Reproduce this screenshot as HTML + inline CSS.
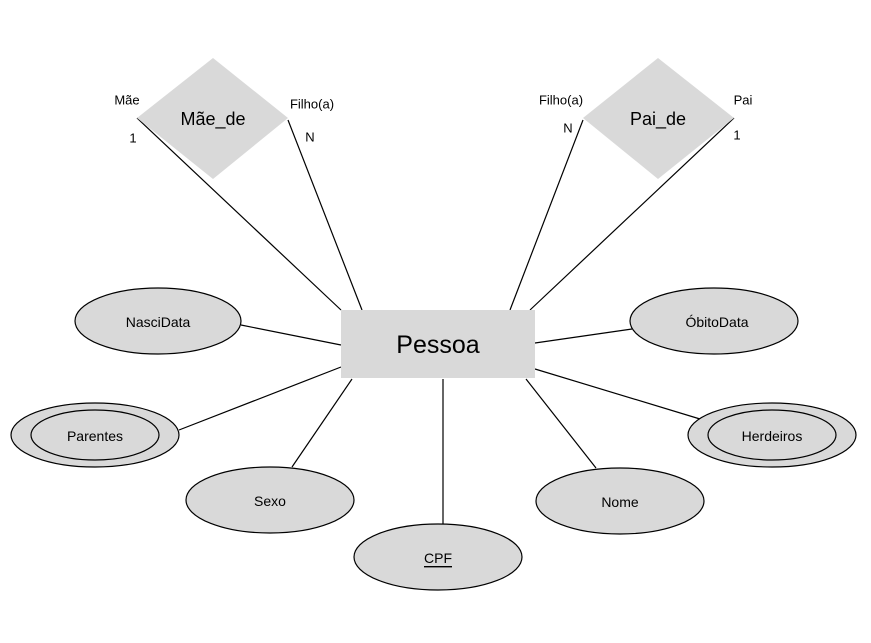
<!DOCTYPE html>
<html><head><meta charset="utf-8"><style>html,body{margin:0;padding:0;background:#fff}</style></head>
<body>
<svg width="871" height="638" viewBox="0 0 871 638" xmlns="http://www.w3.org/2000/svg" font-family="Liberation Sans, sans-serif">
<rect width="871" height="638" fill="#fff"/>
<g stroke="#000" stroke-width="1.2">
<line x1="137" y1="118" x2="341" y2="310"/>
<line x1="288" y1="120" x2="362" y2="310"/>
<line x1="583" y1="120" x2="510" y2="310"/>
<line x1="734" y1="118" x2="530" y2="310"/>
<line x1="241" y1="325" x2="341" y2="345"/>
<line x1="179" y1="430" x2="341" y2="367"/>
<line x1="292" y1="467" x2="352" y2="379"/>
<line x1="443" y1="379" x2="443" y2="524"/>
<line x1="596" y1="468" x2="526" y2="379"/>
<line x1="700" y1="419" x2="535" y2="369"/>
<line x1="632" y1="329" x2="535" y2="343"/>
</g>
<polygon points="213,58 288,118 213,179 137,118" fill="#d9d9d9"/>
<polygon points="658,58 734,118 658,179 583,118" fill="#d9d9d9"/>
<rect x="341" y="310" width="194" height="68" fill="#d9d9d9"/>
<g fill="#d9d9d9" stroke="#000" stroke-width="1.2">
<ellipse cx="158" cy="321" rx="83" ry="33"/>
<ellipse cx="95" cy="435" rx="84" ry="32"/>
<ellipse cx="95" cy="435" rx="64" ry="25"/>
<ellipse cx="270" cy="500" rx="84" ry="33"/>
<ellipse cx="438" cy="557" rx="84" ry="33"/>
<ellipse cx="620" cy="501" rx="84" ry="33"/>
<ellipse cx="772" cy="435" rx="84" ry="32"/>
<ellipse cx="772" cy="435" rx="64" ry="25"/>
<ellipse cx="714" cy="321" rx="84" ry="33"/>
</g>
<g fill="#000" text-anchor="middle" dominant-baseline="central">
<text x="213" y="119" font-size="18">Mãe_de</text>
<text x="658" y="119" font-size="18">Pai_de</text>
<text x="438" y="345" font-size="25">Pessoa</text>
<text x="158" y="322" font-size="14">NasciData</text>
<text x="95" y="436" font-size="14">Parentes</text>
<text x="270" y="501" font-size="14">Sexo</text>
<text x="438" y="558" font-size="14" text-decoration="underline">CPF</text>
<text x="620" y="502" font-size="14">Nome</text>
<text x="772" y="436" font-size="14">Herdeiros</text>
<text x="717" y="322" font-size="14">ÓbitoData</text>
<text x="127" y="100" font-size="13">Mãe</text>
<text x="133" y="138" font-size="13">1</text>
<text x="312" y="104" font-size="13">Filho(a)</text>
<text x="310" y="137" font-size="13">N</text>
<text x="561" y="100" font-size="13">Filho(a)</text>
<text x="568" y="128" font-size="13">N</text>
<text x="743" y="100" font-size="13">Pai</text>
<text x="737" y="135" font-size="13">1</text>
</g>
</svg>
</body></html>
